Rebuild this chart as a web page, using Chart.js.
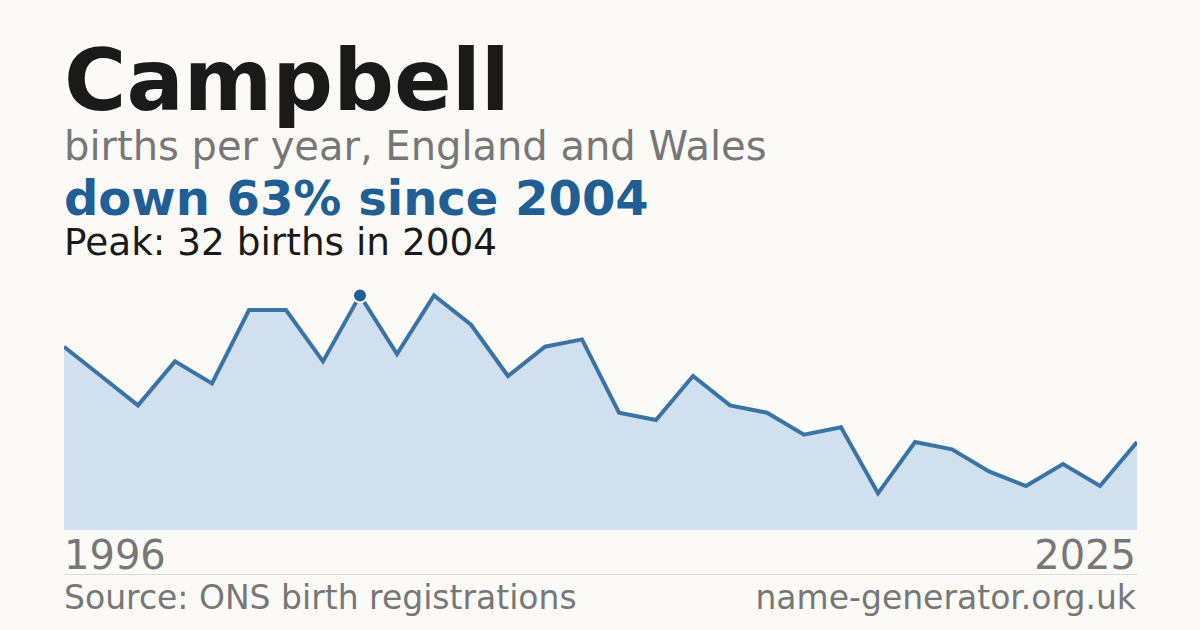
<!DOCTYPE html><html><head><meta charset="utf-8">
<script src="https://cdn.jsdelivr.net/npm/chart.js@4"></script>
<style>
body{margin:0;width:1200px;height:630px;background:#fbfaf6;font-family:"DejaVu Sans",sans-serif;position:relative;overflow:hidden}
.t{position:absolute;left:64px;white-space:nowrap}
#wrap{position:absolute;left:64px;top:280px;width:1073px;height:250px}
</style></head><body>
<div class="t" style="top:31px;font-size:85px;font-weight:bold;color:#1a1a1a">Campbell</div>
<div class="t" style="top:123px;font-size:40px;color:#777">births per year, England and Wales</div>
<div class="t" style="top:170px;font-size:48px;font-weight:bold;color:#1f5f95">down 63% since 2004</div>
<div class="t" style="top:220px;font-size:37.4px;color:#1a1a1a">Peak: 32 births in 2004</div>
<div id="wrap"><canvas id="c"></canvas></div>
<div class="t" style="top:532px;font-size:40px;color:#777">1996</div>
<div class="t" style="top:532px;left:auto;right:64px;font-size:40px;color:#777">2025</div>
<div style="position:absolute;left:64px;width:1073px;top:574px;border-top:1px solid #ddd"></div>
<div class="t" style="top:578px;font-size:33px;color:#777">Source: ONS birth registrations</div>
<div class="t" style="top:578px;left:auto;right:64px;font-size:33px;color:#777">name-generator.org.uk</div>
<script>
const years=[];for(let y=1996;y<=2025;y++)years.push(String(y));
const births=[25,21,17,23,20,30,30,23,32,24,32,28,21,25,26,16,15,21,17,16,13,14,5,12,11,8,6,9,6,12];
const peakYear='2004';
new Chart(document.getElementById('c'),{type:'line',
data:{labels:years,datasets:[{data:births,borderColor:'#3a74a6',borderWidth:4,fill:true,backgroundColor:'#d0e0ef',tension:0,
pointRadius:years.map(y=>y===peakYear?7:0),pointBackgroundColor:'#1f5f95',pointBorderColor:'#fbfaf6',pointBorderWidth:2}]},
options:{responsive:true,maintainAspectRatio:false,animation:false,layout:{padding:0},
plugins:{legend:{display:false},tooltip:{enabled:false}},
scales:{x:{display:false,offset:false},y:{display:false,min:0,max:34.1}}}});
</script></body></html>
